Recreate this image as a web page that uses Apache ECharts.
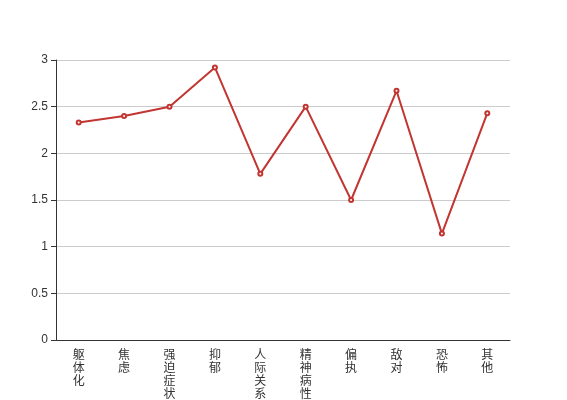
<!DOCTYPE html>
<html><head><meta charset="utf-8">
<script src="https://cdn.jsdelivr.net/npm/echarts@6/dist/echarts.min.js"></script>
<style>html,body{margin:0;padding:0;background:#fff}#c{width:567px;height:400px}</style>
</head><body><div id="c"></div>
<script>
const categories = ['躯体化','焦虑','强迫症状','抑郁','人际关系敏感','精神病性','偏执','敌对','恐怖','其他'];
const values = [2.33, 2.40, 2.50, 2.92, 1.78, 2.50, 1.50, 2.67, 1.14, 2.43];
const chart = echarts.init(document.getElementById('c'));
chart.setOption({
  animation: false,
  grid: {left: 56, right: 57, top: 60, bottom: 60, containLabel: false, outerBoundsMode: 'none'},
  xAxis: {
    type: 'category', data: categories, boundaryGap: true,
    axisLine: {lineStyle: {color: '#333'}},
    axisTick: {lineStyle: {color: '#333'}},
    axisLabel: {color: '#333', fontSize: 12, lineHeight: 13, interval: 0,
      fontFamily: 'Noto Sans CJK SC',
      formatter: v => v.split('').join('\n')}
  },
  yAxis: {
    type: 'value', min: 0, max: 3, interval: 0.5,
    axisLine: {show: true, lineStyle: {color: '#333'}},
    axisTick: {show: true, lineStyle: {color: '#333'}},
    axisLabel: {color: '#333', fontSize: 12},
    splitLine: {lineStyle: {color: '#ccc'}}
  },
  series: [{
    type: 'line', data: values,
    symbol: 'emptyCircle', symbolSize: 4,
    lineStyle: {color: '#c23531', width: 2},
    itemStyle: {color: '#c23531'}
  }]
});
</script></body></html>
